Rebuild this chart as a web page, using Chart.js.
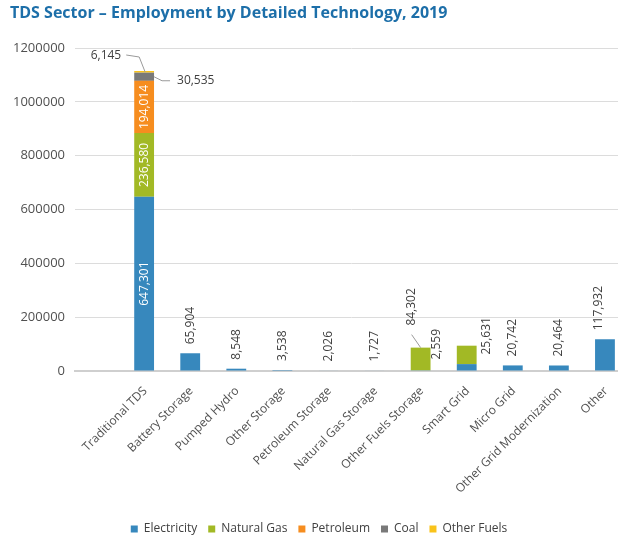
<!DOCTYPE html>
<html>
<head>
<meta charset="utf-8">
<script src="https://cdn.jsdelivr.net/npm/chart.js@4.4.1/dist/chart.umd.min.js"></script>
<style>
  html, body { margin: 0; padding: 0; background: #fff; overflow: hidden; }
  #wrap { position: relative; width: 632px; height: 545px; }
</style>
</head>
<body>
<div id="wrap"><canvas id="chart" width="632" height="545"></canvas></div>
<script>
// Employment by detailed technology and fuel, 2019
const categories = ['', 'Traditional TDS', 'Battery Storage', 'Pumped Hydro', 'Other Storage',
  'Petroleum Storage', 'Natural Gas Storage', 'Other Fuels Storage', 'Smart Grid', 'Micro Grid',
  'Other Grid Modernization', 'Other'];
const electricity = [null, 647301, 65904, 8548, 3538, 2026, 1727, 2559, 25631, 20742, 20464, 117932];
const naturalGas  = [null, 236580, null, null, null, null, null, 84302, 68400, null, null, null];
const petroleum   = [null, 194014, null, null, null, null, null, null, null, null, null, null];
const coal        = [null, 30535, null, null, null, null, null, null, null, null, null, null];
const otherFuels  = [null, 6145, null, null, null, null, null, null, null, null, null, null];
const yTicks = [0, 200000, 400000, 600000, 800000, 1000000, 1200000];
const seriesNames = ['Electricity', 'Natural Gas', 'Petroleum', 'Coal', 'Other Fuels'];
const seriesColors = ['#3788bd', '#a2b925', '#f68d1f', '#797979', '#f9c31a'];

const FONT = '"Open Sans", "Liberation Sans", sans-serif';
const fmt = v => v.toLocaleString('en-US');

// Labels that need a callout instead of sitting straight above the bar
const callouts = {
  'Other Fuels|Traditional TDS': { kind: 'left' },
  'Coal|Traditional TDS': { kind: 'right' },
  'Natural Gas|Other Fuels Storage': { kind: 'leaderUp' },
  'Electricity|Other Fuels Storage': { kind: 'side', dx: 16, lift: 11 },
  'Electricity|Smart Grid': { kind: 'side', dx: 20, lift: 16 },
  'Natural Gas|Smart Grid': { kind: 'none' },
  'Electricity|Other': { kind: 'above', dx: -6 }
};

function verticalText(ctx, text, x, y, align, color) {
  ctx.save();
  ctx.translate(x, y);
  ctx.rotate(-Math.PI / 2);
  ctx.textAlign = align;
  ctx.textBaseline = 'middle';
  ctx.fillStyle = color;
  ctx.fillText(text, 0, 0);
  ctx.restore();
}

function leader(ctx, pts) {
  ctx.save();
  ctx.strokeStyle = '#9a9a9a';
  ctx.lineWidth = 1;
  ctx.beginPath();
  ctx.moveTo(pts[0][0], pts[0][1]);
  for (let k = 1; k < pts.length; k++) ctx.lineTo(pts[k][0], pts[k][1]);
  ctx.stroke();
  ctx.restore();
}

const valueLabels = {
  id: 'valueLabels',
  afterDatasetsDraw(chart) {
    const ctx = chart.ctx;
    ctx.save();
    ctx.font = '12px ' + FONT;
    const dark = '#404040';
    categories.forEach((cat, i) => {
      let stackTop = null;
      chart.data.datasets.forEach((ds, d) => {
        const v = ds.data[i];
        if (v == null) return;
        const el = chart.getDatasetMeta(d).data[i];
        stackTop = stackTop == null ? el.y : Math.min(stackTop, el.y);
      });
      chart.data.datasets.forEach((ds, d) => {
        const v = ds.data[i];
        if (v == null) return;
        const el = chart.getDatasetMeta(d).data[i];
        const text = fmt(v);
        const h = el.base - el.y;
        const key = ds.label + '|' + cat;
        const c = callouts[key] || { kind: 'above' };
        if (c.kind === 'none') return;
        const half = el.width / 2;
        if (!callouts[key] && h > ctx.measureText(text).width + 2) {
          verticalText(ctx, text, el.x, (el.y + el.base) / 2, 'center', '#ffffff');
          return;
        }
        if (c.kind === 'above') {
          verticalText(ctx, text, el.x + (c.dx || 0), stackTop - 9, 'left', dark);
        } else if (c.kind === 'side') {
          verticalText(ctx, text, el.x + c.dx, el.base - c.lift, 'left', dark);
        } else if (c.kind === 'leaderUp') {
          verticalText(ctx, text, el.x - 9, el.y - 22, 'left', dark);
          leader(ctx, [[el.x - 9, el.y - 13], [el.x, el.y]]);
        } else if (c.kind === 'left') {
          ctx.fillStyle = dark;
          ctx.textAlign = 'right';
          ctx.textBaseline = 'middle';
          ctx.fillText(text, el.x - half - 13, el.y - 15);
          leader(ctx, [[el.x - half - 8, el.y - 16], [el.x - half + 5, el.y - 14], [el.x + 1, el.y + 1]]);
        } else if (c.kind === 'right') {
          const cy = (el.y + el.base) / 2;
          ctx.fillStyle = dark;
          ctx.textAlign = 'left';
          ctx.textBaseline = 'middle';
          ctx.fillText(text, el.x + half + 23, cy + 4);
          leader(ctx, [[el.x + half, cy], [el.x + half + 8, cy + 4], [el.x + half + 16, cy + 4]]);
        }
      });
    });
    ctx.restore();
  }
};

const seriesData = [electricity, naturalGas, petroleum, coal, otherFuels];

new Chart(document.getElementById('chart'), {
  type: 'bar',
  data: {
    labels: categories,
    datasets: seriesNames.map((name, k) => ({
      label: name,
      data: seriesData[k],
      backgroundColor: seriesColors[k],
      borderWidth: 0,
      categoryPercentage: 1,
      barPercentage: 0.43
    }))
  },
  options: {
    responsive: false,
    animation: false,
    devicePixelRatio: 1,
    layout: { padding: { left: 10, right: 4, top: 0, bottom: 0 } },
    scales: {
      x: {
        stacked: true,
        grid: { display: false },
        border: { display: true, color: '#cfcfcf', width: 2 },
        ticks: {
          autoSkip: false,
          minRotation: 45,
          maxRotation: 45,
          padding: 5,
          labelOffset: 1,
          color: '#505050',
          font: { family: FONT, size: 12 }
        },
        afterFit(scale) { scale.height = 141; }
      },
      y: {
        stacked: true,
        min: 0,
        max: 1200000,
        border: { display: false },
        grid: {
          drawTicks: false,
          color: '#dcdcdc',
          lineWidth: 1
        },
        afterBuildTicks(scale) { scale.ticks = yTicks.map(v => ({ value: v })); },
        ticks: {
          padding: 10,
          color: '#505050',
          font: { family: FONT, size: 13 },
          callback: v => String(v)
        },
        afterFit(scale) { scale.width = 65; }
      }
    },
    plugins: {
      title: {
        display: true,
        text: 'TDS Sector \u2013 Employment by Detailed Technology, 2019',
        align: 'start',
        color: '#1d6fa9',
        font: { family: FONT, size: 16, weight: 'bold' },
        padding: { top: 4, bottom: 24.8 }
      },
      legend: {
        position: 'bottom',
        labels: {
          boxWidth: 7,
          boxHeight: 7,
          padding: 11,
          color: '#404040',
          font: { family: FONT, size: 12 }
        }
      },
      tooltip: { enabled: false }
    }
  },
  plugins: [valueLabels]
});
</script>
</body>
</html>
